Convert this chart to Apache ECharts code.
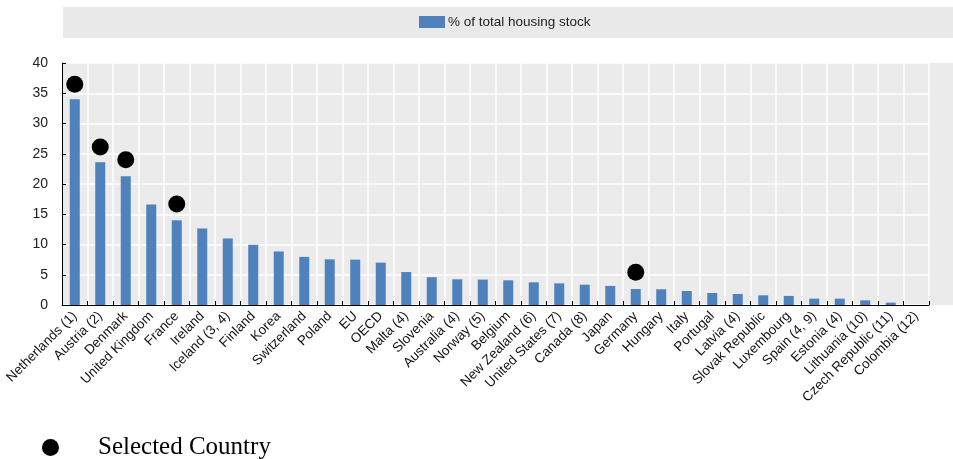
<!DOCTYPE html>
<html>
<head>
<meta charset="utf-8">
<script src="https://cdn.jsdelivr.net/npm/echarts@6/dist/echarts.min.js"></script>
<style>
html,body{margin:0;padding:0;background:#fff;}
#chart{width:953px;height:459px;}
</style>
</head>
<body>
<div id="chart"></div>
<script>
var categories = ["Netherlands (1)","Austria (2)","Denmark","United Kingdom","France","Ireland","Iceland (3, 4)","Finland","Korea","Switzerland","Poland","EU","OECD","Malta (4)","Slovenia","Australia (4)","Norway (5)","Belgium","New Zealand (6)","United States (7)","Canada (8)","Japan","Germany","Hungary","Italy","Portugal","Latvia (4)","Slovak Republic","Luxembourg","Spain (4, 9)","Estonia (4)","Lithuania (10)","Czech Republic (11)","Colombia (12)"];
var housingShare = [34.0,23.6,21.3,16.6,14.0,12.65,11.0,9.95,8.85,7.95,7.55,7.5,7.0,5.45,4.6,4.25,4.2,4.08,3.75,3.58,3.36,3.15,2.64,2.6,2.31,1.98,1.82,1.6,1.5,1.05,1.05,0.77,0.39,0];
var selectedCountry = [36.5,26.1,24.0,null,16.7,null,null,null,null,null,null,null,null,null,null,null,null,null,null,null,null,null,5.4,null,null,null,null,null,null,null,null,null,null,null];
var yTicks = {min:0, max:40, interval:5};

var chart = echarts.init(document.getElementById('chart'), null, {renderer:'canvas'});
chart.setOption({
  animation:false,
  textStyle:{fontFamily:'Liberation Sans, Arial, sans-serif'},
  graphic:[
    {type:'rect', z:-10, shape:{x:63,y:7,width:890,height:31}, style:{fill:'#e9e9e9'}},
    {type:'rect', z:-10, shape:{x:62,y:63,width:891,height:242}, style:{fill:'#ebebeb'}}
  ],
  legend:[
    {
      data:['% of total housing stock'],
      left:419, top:15, padding:0,
      icon:'rect', itemWidth:26, itemHeight:12,
      textStyle:{fontSize:13.5, color:'#222', padding:[0,0,0,-2]},
      selectedMode:false
    },
    {
      data:['Selected Country'],
      left:42, top:435, padding:0,
      icon:'circle', itemWidth:17, itemHeight:17,
      textStyle:{fontSize:25, color:'#000', fontFamily:'Liberation Serif, Times New Roman, serif', padding:[0,0,0,34]},
      selectedMode:false
    }
  ],
  grid:{left:62, right:24, top:63, bottom:154, containLabel:false},
  xAxis:{
    type:'category',
    data:categories,
    boundaryGap:true,
    axisLine:{show:true, lineStyle:{color:'#000', width:1}},
    axisTick:{show:true, inside:true, length:4, interval:0, lineStyle:{color:'#000'}},
    axisLabel:{rotate:45, interval:0, fontSize:13.5, color:'#111', margin:9},
    splitLine:{show:true, interval:0, lineStyle:{color:'#fff', width:1.5}}
  },
  yAxis:{
    type:'value',
    min:yTicks.min, max:yTicks.max, interval:yTicks.interval,
    axisLine:{show:true, lineStyle:{color:'#000', width:1}},
    axisTick:{show:true, inside:true, length:4, lineStyle:{color:'#000'}},
    axisLabel:{fontSize:14, color:'#222', margin:14},
    splitLine:{show:true, lineStyle:{color:'#fff', width:1.5}}
  },
  series:[
    {
      name:'% of total housing stock',
      type:'bar',
      data:housingShare,
      barWidth:10,
      itemStyle:{color:'#4f81bd'},
      z:2
    },
    {
      name:'Selected Country',
      type:'scatter',
      data:selectedCountry,
      symbol:'circle',
      symbolSize:17,
      itemStyle:{color:'#000', opacity:1},
      z:5
    }
  ]
});
</script>
</body>
</html>
